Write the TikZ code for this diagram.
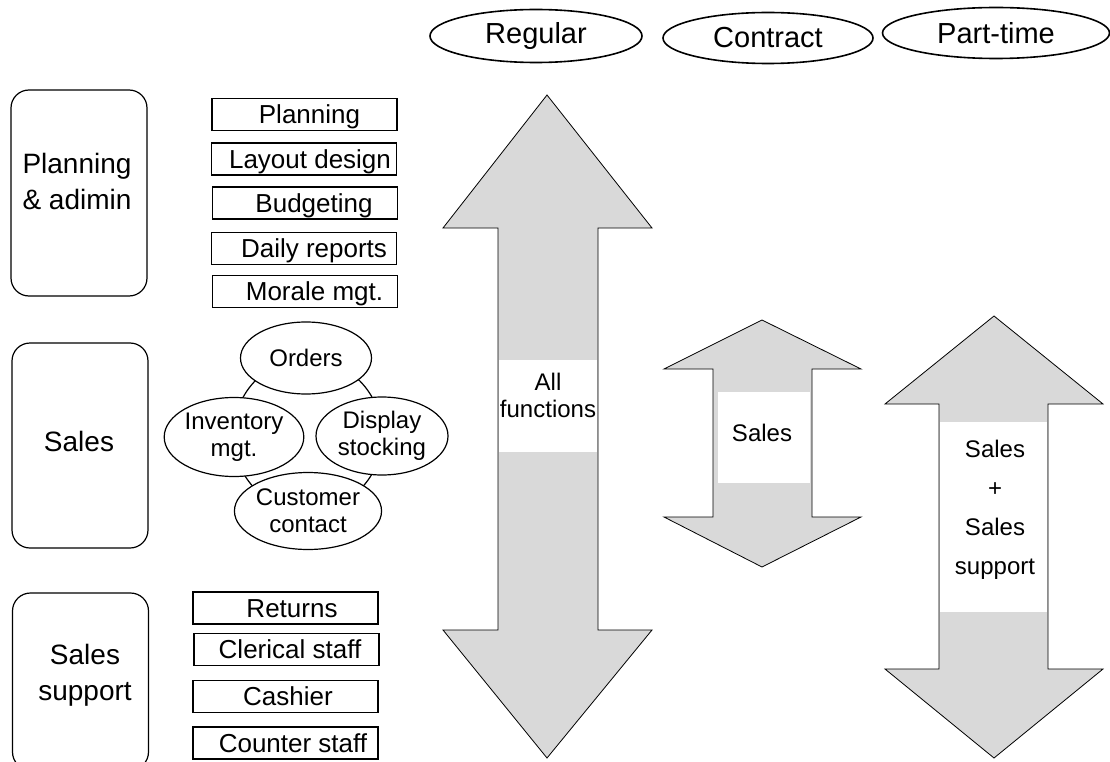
\documentclass[tikz,border=0pt]{standalone}
\usepackage{fontspec}
\setmainfont{Liberation Sans}
\usetikzlibrary{shapes.geometric,backgrounds}
\definecolor{arrowgray}{RGB}{217,217,217}
\tikzset{
  bigbox/.style={draw, line width=1.2pt, rounded corners=18pt, minimum width=136pt, inner sep=0pt},
  bigtext/.style={font=\fontsize{28}{36}\selectfont, align=center, inner sep=0pt},
  taskbox/.style={draw, line width=1.2pt, minimum width=185pt, minimum height=32pt, inner sep=0pt,
     font=\fontsize{26}{30}\selectfont, text height=18.5pt, text depth=0.5pt},
  typeell/.style={draw, ellipse, line width=1.6pt, inner sep=0pt, font=\fontsize{29}{34}\selectfont},
  salesell/.style={draw, ellipse, line width=1.2pt, fill=white, inner sep=0pt, align=center,
     font=\fontsize{24}{27}\selectfont},
  ring/.style={line width=1.2pt},
  dblarrow/.style={draw, line width=0.8pt, fill=arrowgray},
  band/.style={fill=white},
  arrowtext/.style={font=\fontsize{24}{27}\selectfont, align=center, inner sep=0pt}
}
\begin{document}
\begin{tikzpicture}[x=1pt,y=-1pt]
\useasboundingbox (0,0) rectangle (1110,762);
\clip (0,0) rectangle (1110,762);

% employment types
\node[typeell, minimum width=212pt, minimum height=53pt] (regular) at (536,36) {Regular};
\node[typeell, minimum width=210pt, minimum height=51pt] (contract) at (768,38) {Contract};
\node[typeell, minimum width=227pt, minimum height=51pt] (parttime) at (996,33) {Part-time};

% function categories
\node[bigbox, minimum height=206pt] (plan) at (79,193) {};
\node[bigtext] (plantext) at (77,181) {Planning\\\& adimin};
\node[bigbox, minimum height=205pt] (sales) at (80,445.5) {};
\node[bigtext] (salestext) at (79,441) {Sales};
\node[bigbox, minimum height=177pt] (support) at (80.5,681.5) {};
\node[bigtext] (supporttext) at (85,675) {Sales\\support};

% planning tasks
\node[taskbox] (t1) at (304.5,114.5) {\hspace*{10pt}Planning};
\node[taskbox] (t2) at (304,159) {\hspace*{12pt}Layout design};
\node[taskbox] (t3) at (305,203) {\hspace*{18pt}Budgeting};
\node[taskbox] (t4) at (304,248.5) {\hspace*{20pt}Daily reports};
\node[taskbox] (t5) at (305,291.5) {\hspace*{19pt}Morale mgt.};

% sales tasks
\node[salesell, minimum width=131pt, minimum height=72pt] (orders) at (306,358) {Orders};
\node[salesell, minimum width=134pt, minimum height=79pt] (inv) at (234,437) {Inventory\\mgt.};
\node[salesell, minimum width=132pt, minimum height=78pt] (disp) at (382,436) {Display\\stocking};
\node[salesell, minimum width=132pt, minimum height=77pt] (cust) at (308,511) {Customer\\contact};
\begin{pgfonlayer}{background}
\draw[ring] (orders.center) to[bend right=45] (inv.center);
\draw[ring] (inv.center) to[bend right=45] (cust.center);
\draw[ring] (cust.center) to[bend right=45] (disp.center);
\draw[ring] (disp.center) to[bend right=45] (orders.center);
\end{pgfonlayer}

% sales support tasks
\node[taskbox] (s1) at (285.5,608) {\hspace*{13pt}Returns};
\node[taskbox] (s2) at (286.5,649.5) {\hspace*{7pt}Clerical staff};
\node[taskbox] (s3) at (285.5,696.5) {\hspace*{5pt}Cashier};
\node[taskbox] (s4) at (285.5,743) {\hspace*{15pt}Counter staff};

% regular arrow
\draw[dblarrow] (547,95) -- (652,228) -- (598,228) -- (598,630) -- (652,630) -- (547,758)
  -- (443,630) -- (498,630) -- (498,228) -- (443,228) -- cycle;
\fill[band] (499,360) rectangle (597,452);
\node[arrowtext] (allfn) at (548,395) {All\\functions};

% contract arrow
\draw[dblarrow] (762,320) -- (861,369) -- (812,369) -- (812,517) -- (861,517) -- (762,567)
  -- (664,517) -- (713,517) -- (713,369) -- (664,369) -- cycle;
\fill[band] (718,392) rectangle (810,483);
\node[arrowtext] (contractfn) at (762,433) {Sales};

% part-time arrow
\draw[dblarrow] (994,316) -- (1103,404) -- (1048,404) -- (1048,669) -- (1103,669) -- (994,758)
  -- (885,669) -- (939,669) -- (939,404) -- (885,404) -- cycle;
\fill[band] (940,422) rectangle (1047,612);
\node[arrowtext, font=\fontsize{24}{39}\selectfont] (partfn) at (995,510) {Sales\\+\\Sales\\support};
\end{tikzpicture}
\end{document}
